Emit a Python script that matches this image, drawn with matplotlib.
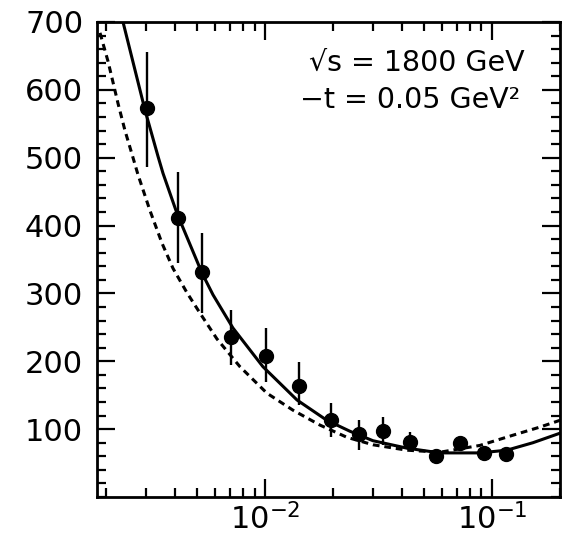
import numpy as np
import matplotlib
matplotlib.use("Agg")
import matplotlib.pyplot as plt
from matplotlib.ticker import MultipleLocator, LogLocator, NullFormatter

# data points
x_pts = [0.00302, 0.00414, 0.00527, 0.00708, 0.0101, 0.0141, 0.0195,
         0.0259, 0.0331, 0.0435, 0.0566, 0.0723, 0.0922, 0.115]
y_pts = [573, 411, 332, 236, 208, 164, 113, 93, 97, 81, 60, 80, 65, 63]
err_lo = [87, 66, 61, 41, 39, 28, 25, 24, 20, 12, 8, 8, 7, 6]
err_hi = [83, 68, 57, 40, 41, 35, 26, 20, 21, 15, 8, 10, 7, 6]

# solid curve
x_solid = [0.002368, 0.002961, 0.003378, 0.003554, 0.004095, 0.005279,
           0.005902, 0.007228, 0.009799, 0.01384, 0.01875, 0.02366,
           0.0299, 0.04223, 0.05902, 0.08853, 0.1164, 0.1517, 0.1995]
y_solid = [700, 570, 502, 477, 418, 330, 298, 249, 192, 143, 113, 97,
           83, 72, 65, 65, 69, 80, 94]

# dashed curve
x_dash = [0.001875, 0.002034, 0.00214, 0.002251, 0.002416, 0.002595,
          0.002757, 0.003114, 0.003518, 0.003932, 0.004533, 0.005172,
          0.006143, 0.00776, 0.0102, 0.01328, 0.01747, 0.02297, 0.0299,
          0.04222, 0.05902, 0.08853, 0.1237, 0.1627, 0.1995]
y_dash = [684, 642, 611, 580, 540, 505, 475, 422, 374, 337, 301, 271,
          233, 192, 153, 128, 106, 88, 77, 69, 66, 76, 91, 103, 113]

fig = plt.figure(figsize=(5.71, 5.58), dpi=100)
ax = fig.add_axes([0.170, 0.1093, 0.811, 0.8513])

ax.plot(x_solid, y_solid, color="black", lw=2.2)
ax.plot(x_dash, y_dash, color="black", lw=2.2, linestyle=(0, (2.2, 1.6)))
ax.errorbar(x_pts, y_pts, yerr=[err_lo, err_hi], fmt="o", color="black",
            markersize=10, elinewidth=1.7, capsize=0)

ax.set_xscale("log")
ax.set_xlim(0.00182, 0.2)
ax.set_ylim(0, 700)
ax.set_yticks([100, 200, 300, 400, 500, 600, 700])
ax.yaxis.set_minor_locator(MultipleLocator(20))
ax.xaxis.set_minor_locator(LogLocator(base=10, subs=np.arange(2, 10)))
ax.xaxis.set_minor_formatter(NullFormatter())

ax.tick_params(which="both", direction="in", top=True, right=True, width=1.6)
ax.tick_params(which="major", length=13)
ax.tick_params(which="minor", length=6.5)
ax.tick_params(axis="y", labelsize=22, pad=10)
ax.tick_params(axis="x", labelsize=22, pad=4)
for s in ax.spines.values():
    s.set_linewidth(2)

ax.text(0.458, 0.914, "\u221as = 1800 GeV", transform=ax.transAxes,
        fontsize=20.5, ha="left", va="center")
ax.text(0.438, 0.836, "\u2212t = 0.05 GeV\u00b2", transform=ax.transAxes,
        fontsize=20.5, ha="left", va="center")

fig.savefig("out.png", dpi=100)
